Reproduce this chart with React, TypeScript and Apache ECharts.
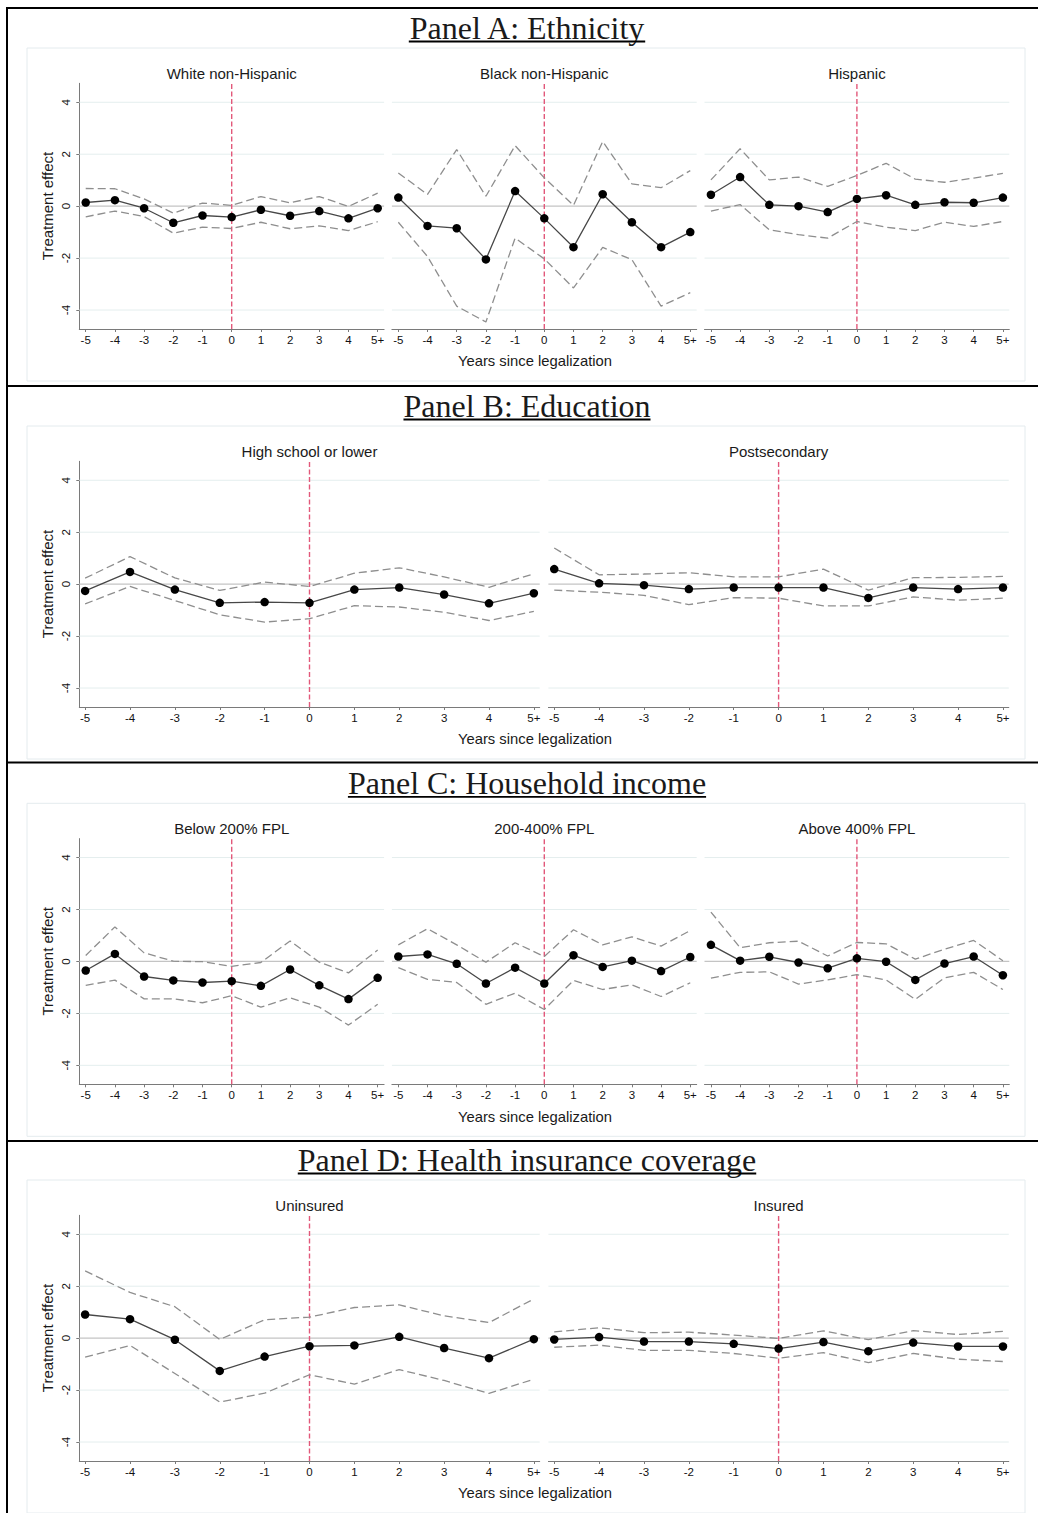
import React, { useEffect, useRef } from "react";
import * as echarts from "echarts";

// ---------- data ----------
const years = [-5, -4, -3, -2, -1, 0, 1, 2, 3, 4, 5];
const xTickLabels = ["-5", "-4", "-3", "-2", "-1", "0", "1", "2", "3", "4", "5+"];
const yTicks = [-4, -2, 0, 2, 4];
const gridValues = [-4, -2, 2, 4];

const panelTitles = [
  "Panel A: Ethnicity",
  "Panel B: Education",
  "Panel C: Household income",
  "Panel D: Health insurance coverage",
];
const subplotTitles = [
  ["White non-Hispanic", "Black non-Hispanic", "Hispanic"],
  ["High school or lower", "Postsecondary"],
  ["Below 200% FPL", "200-400% FPL", "Above 400% FPL"],
  ["Uninsured", "Insured"],
];
const yAxisTitle = "Treatment effect";
const xAxisTitle = "Years since legalization";

// Panel A
const whiteEst = [0.14, 0.23, -0.08, -0.64, -0.36, -0.42, -0.14, -0.37, -0.19, -0.47, -0.08];
const whiteHi = [0.68, 0.67, 0.28, -0.27, 0.12, 0.03, 0.37, 0.13, 0.37, -0.01, 0.5];
const whiteLo = [-0.41, -0.19, -0.4, -1.04, -0.81, -0.86, -0.62, -0.87, -0.76, -0.94, -0.6];

const blackEst = [0.33, -0.76, -0.85, -2.05, 0.58, -0.47, -1.58, 0.46, -0.62, -1.58, -1.0];
const blackHi = [1.28, 0.45, 2.18, 0.38, 2.33, 1.09, 0.03, 2.49, 0.86, 0.71, 1.37];
const blackLo = [-0.62, -1.94, -3.85, -4.46, -1.23, -2.03, -3.15, -1.59, -2.06, -3.85, -3.33];

const hispEst = [0.44, 1.12, 0.05, 0.0, -0.23, 0.28, 0.42, 0.05, 0.15, 0.13, 0.33];
const hispHi = [1.01, 2.21, 1.01, 1.12, 0.76, 1.18, 1.65, 1.04, 0.92, 1.08, 1.26];
const hispLo = [-0.19, 0.06, -0.91, -1.1, -1.23, -0.59, -0.81, -0.94, -0.62, -0.78, -0.59];

// Panel B
const hsEst = [-0.26, 0.47, -0.21, -0.72, -0.69, -0.72, -0.21, -0.13, -0.4, -0.74, -0.35];
const hsHi = [0.23, 1.06, 0.24, -0.24, 0.08, -0.09, 0.42, 0.63, 0.28, -0.12, 0.4];
const hsLo = [-0.76, -0.09, -0.63, -1.18, -1.46, -1.33, -0.83, -0.88, -1.08, -1.4, -1.05];

const postEst = [0.58, 0.03, -0.04, -0.19, -0.13, -0.13, -0.13, -0.53, -0.13, -0.19, -0.13];
const postHi = [1.39, 0.36, 0.39, 0.44, 0.28, 0.28, 0.58, -0.23, 0.25, 0.26, 0.3];
const postLo = [-0.23, -0.31, -0.43, -0.79, -0.52, -0.54, -0.84, -0.84, -0.49, -0.62, -0.54];

// Panel C
const lowIncEst = [-0.35, 0.29, -0.58, -0.73, -0.81, -0.76, -0.94, -0.31, -0.92, -1.45, -0.63];
const lowIncHi = [0.23, 1.33, 0.33, 0.01, -0.01, -0.19, -0.04, 0.79, -0.03, -0.44, 0.44];
const lowIncLo = [-0.92, -0.72, -1.44, -1.44, -1.59, -1.32, -1.76, -1.4, -1.76, -2.45, -1.65];

const midIncEst = [0.19, 0.27, -0.09, -0.85, -0.24, -0.85, 0.24, -0.21, 0.03, -0.37, 0.17];
const midIncHi = [0.64, 1.26, 0.64, -0.03, 0.72, 0.19, 1.22, 0.64, 0.95, 0.59, 1.19];
const midIncLo = [-0.24, -0.69, -0.81, -1.65, -1.22, -1.85, -0.73, -1.08, -0.9, -1.35, -0.82];

const highIncEst = [0.64, 0.03, 0.18, -0.04, -0.26, 0.12, -0.01, -0.71, -0.08, 0.19, -0.53];
const highIncHi = [1.9, 0.53, 0.72, 0.78, 0.21, 0.73, 0.68, 0.09, 0.47, 0.81, 0.03];
const highIncLo = [-0.64, -0.42, -0.4, -0.87, -0.71, -0.51, -0.71, -1.46, -0.63, -0.42, -1.08];

// Panel D
const uninsEst = [0.91, 0.73, -0.06, -1.26, -0.71, -0.31, -0.28, 0.05, -0.38, -0.77, -0.04];
const uninsHi = [2.59, 1.76, 1.21, -0.05, 0.71, 0.81, 1.18, 1.28, 0.86, 0.6, 1.51];
const uninsLo = [-0.73, -0.28, -1.36, -2.46, -2.12, -1.41, -1.77, -1.21, -1.63, -2.13, -1.58];

const insEst = [-0.05, 0.04, -0.13, -0.13, -0.22, -0.4, -0.15, -0.5, -0.17, -0.32, -0.32];
const insHi = [0.24, 0.4, 0.21, 0.23, 0.12, -0.01, 0.28, -0.06, 0.29, 0.14, 0.26];
const insLo = [-0.35, -0.27, -0.47, -0.47, -0.59, -0.77, -0.56, -0.94, -0.59, -0.81, -0.9];

const panelData = [
  [
    { est: whiteEst, hi: whiteHi, lo: whiteLo },
    { est: blackEst, hi: blackHi, lo: blackLo },
    { est: hispEst, hi: hispHi, lo: hispLo },
  ],
  [
    { est: hsEst, hi: hsHi, lo: hsLo },
    { est: postEst, hi: postHi, lo: postLo },
  ],
  [
    { est: lowIncEst, hi: lowIncHi, lo: lowIncLo },
    { est: midIncEst, hi: midIncHi, lo: midIncLo },
    { est: highIncEst, hi: highIncHi, lo: highIncLo },
  ],
  [
    { est: uninsEst, hi: uninsHi, lo: uninsLo },
    { est: insEst, hi: insHi, lo: insLo },
  ],
];

// ---------- layout & style ----------
const W = 1038;
const H = 1513;
const PANEL_TOPS = [48, 426, 803.3, 1180];
const SEPARATORS = [8, 386, 762.5, 1141];
const PLOT_TOP_OFF = 35.3;
const PLOT_H = 245.7;
const Y_MAX = 4.73;
const LAYOUT3 = { lefts: [79.3, 391.9, 704.5], width: 304.8, pad: 0.22 };
const LAYOUT2 = { lefts: [79.3, 548.4], width: 460.4, pad: 0.13 };

const SANS = "'Liberation Sans', Arial, Helvetica, sans-serif";
const SERIF = "'Liberation Serif', 'Times New Roman', serif";
const AXIS_C = "#7a7a7a";
const GRID_C = "#e4eeee";
const ZERO_C = "#c4c4c4";
const RED_C = "#e2587a";
const CI_C = "#8e8e8e";
const EST_C = "#474747";
const TEXT_C = "#1a1a1a";
const TICK_C = "#111111";

function measure(text: string, font: string): number {
  const ctx = document.createElement("canvas").getContext("2d");
  if (!ctx) return text.length * 14;
  ctx.font = font;
  return ctx.measureText(text).width;
}

function textEl(text: string, x: number, y: number, size: number, family: string, rotation = 0) {
  return {
    type: "text",
    x,
    y,
    rotation,
    silent: true,
    style: {
      text,
      fill: TEXT_C,
      fontSize: size,
      fontFamily: family,
      textAlign: "center",
      textVerticalAlign: "middle",
      align: "center",
      verticalAlign: "middle",
    },
  };
}

function buildOption() {
  const grids: any[] = [];
  const xAxes: any[] = [];
  const yAxes: any[] = [];
  const series: any[] = [];
  const graphics: any[] = [];

  // table lines
  graphics.push({
    type: "line",
    silent: true,
    shape: { x1: 7, y1: 7, x2: 7, y2: H },
    style: { stroke: "#000", lineWidth: 2 },
  });
  SEPARATORS.forEach((y) =>
    graphics.push({
      type: "line",
      silent: true,
      shape: { x1: 6, y1: y, x2: W, y2: y },
      style: { stroke: "#000", lineWidth: 2 },
    })
  );

  let gi = 0;
  panelData.forEach((panel, p) => {
    const Y0 = PANEL_TOPS[p];
    const layout = panel.length === 3 ? LAYOUT3 : LAYOUT2;
    const xMin = -5 - layout.pad;
    const xMax = 5 + layout.pad;

    // stata graph box
    graphics.push({
      type: "rect",
      silent: true,
      z: -1,
      shape: { x: 27, y: Y0, width: 998, height: 333 },
      style: { fill: "none", stroke: "#e4ebee", lineWidth: 1 },
    });

    // panel title + underline
    const tFont = `32px ${SERIF}`;
    const tw = measure(panelTitles[p], tFont);
    const tcx = 527;
    graphics.push(textEl(panelTitles[p], tcx, Y0 - 20.5, 32, SERIF));
    graphics.push({
      type: "line",
      silent: true,
      shape: { x1: tcx - tw / 2, y1: Y0 - 6.5, x2: tcx + tw / 2, y2: Y0 - 6.5 },
      style: { stroke: "#000", lineWidth: 1.8 },
    });

    // axis titles
    graphics.push(textEl(yAxisTitle, 47, Y0 + 158, 15, SANS, Math.PI / 2));
    graphics.push(textEl(xAxisTitle, 535, Y0 + 313.3, 14.8, SANS));

    panel.forEach((sub, s) => {
      const left = layout.lefts[s];
      grids.push({
        left,
        top: Y0 + PLOT_TOP_OFF,
        width: layout.width,
        height: PLOT_H,
        containLabel: false,
      });
      xAxes.push({
        gridIndex: gi,
        type: "value",
        min: xMin,
        max: xMax,
        axisLine: { show: true, onZero: false, lineStyle: { color: AXIS_C, width: 1 } },
        axisTick: { show: true, customValues: years, length: 3, lineStyle: { color: AXIS_C, width: 1 } },
        axisLabel: {
          show: true,
          customValues: years,
          formatter: (v: number) => {
            const i = years.indexOf(Math.round(v));
            return i >= 0 ? xTickLabels[i] : String(v);
          },
          fontSize: 11.5,
          fontFamily: SANS,
          color: TICK_C,
          margin: 5,
        },
        splitLine: { show: false },
      });
      const first = s === 0;
      yAxes.push({
        gridIndex: gi,
        type: "value",
        min: -Y_MAX,
        max: Y_MAX,
        axisLine: { show: first, onZero: false, lineStyle: { color: AXIS_C, width: 1 } },
        axisTick: { show: first, customValues: yTicks, length: 3, lineStyle: { color: AXIS_C, width: 1 } },
        axisLabel: {
          show: first,
          customValues: yTicks,
          rotate: 90,
          margin: 7,
          fontSize: 11.5,
          fontFamily: SANS,
          color: TICK_C,
        },
        splitLine: { show: false },
      });

      const base = { xAxisIndex: gi, yAxisIndex: gi, silent: true, animation: false };
      // grid lines
      gridValues.forEach((v) =>
        series.push({
          ...base,
          type: "line",
          z: 1,
          symbol: "none",
          data: [
            [xMin, v],
            [xMax, v],
          ],
          lineStyle: { color: GRID_C, width: 1, type: "solid" },
        })
      );
      // zero reference
      series.push({
        ...base,
        type: "line",
        z: 1,
        symbol: "none",
        data: [
          [xMin, 0],
          [xMax, 0],
        ],
        lineStyle: { color: ZERO_C, width: 1.3, type: "solid" },
      });
      // legalization line
      series.push({
        ...base,
        type: "line",
        z: 2,
        symbol: "none",
        data: [
          [0, -Y_MAX],
          [0, Y_MAX],
        ],
        lineStyle: { color: RED_C, width: 1.4, type: [5, 2.5] },
      });
      // confidence bounds
      [sub.hi, sub.lo].forEach((arr) =>
        series.push({
          ...base,
          type: "line",
          z: 3,
          symbol: "none",
          data: years.map((x, i) => [x, arr[i]]),
          lineStyle: { color: CI_C, width: 1.3, type: [8, 4] },
        })
      );
      // estimates
      series.push({
        ...base,
        type: "line",
        z: 4,
        symbol: "circle",
        symbolSize: 8.5,
        data: years.map((x, i) => [x, sub.est[i]]),
        lineStyle: { color: EST_C, width: 1.3 },
        itemStyle: { color: "#000" },
      });

      // subplot title
      graphics.push(textEl(subplotTitles[p][s], left + layout.width / 2, Y0 + 25, 15, SANS));
      gi++;
    });
  });

  return {
    animation: false,
    backgroundColor: "#ffffff",
    grid: grids,
    xAxis: xAxes,
    yAxis: yAxes,
    series,
    graphic: { elements: graphics },
  };
}

export default function App() {
  const ref = useRef<HTMLDivElement>(null);
  useEffect(() => {
    document.body.style.margin = "0";
    if (!ref.current) return;
    const chart = echarts.init(ref.current, null, { renderer: "svg", width: W, height: H });
    chart.setOption(buildOption() as any);
    return () => chart.dispose();
  }, []);
  return <div ref={ref} style={{ position: "absolute", left: 0, top: 0, width: W, height: H }} />;
}
